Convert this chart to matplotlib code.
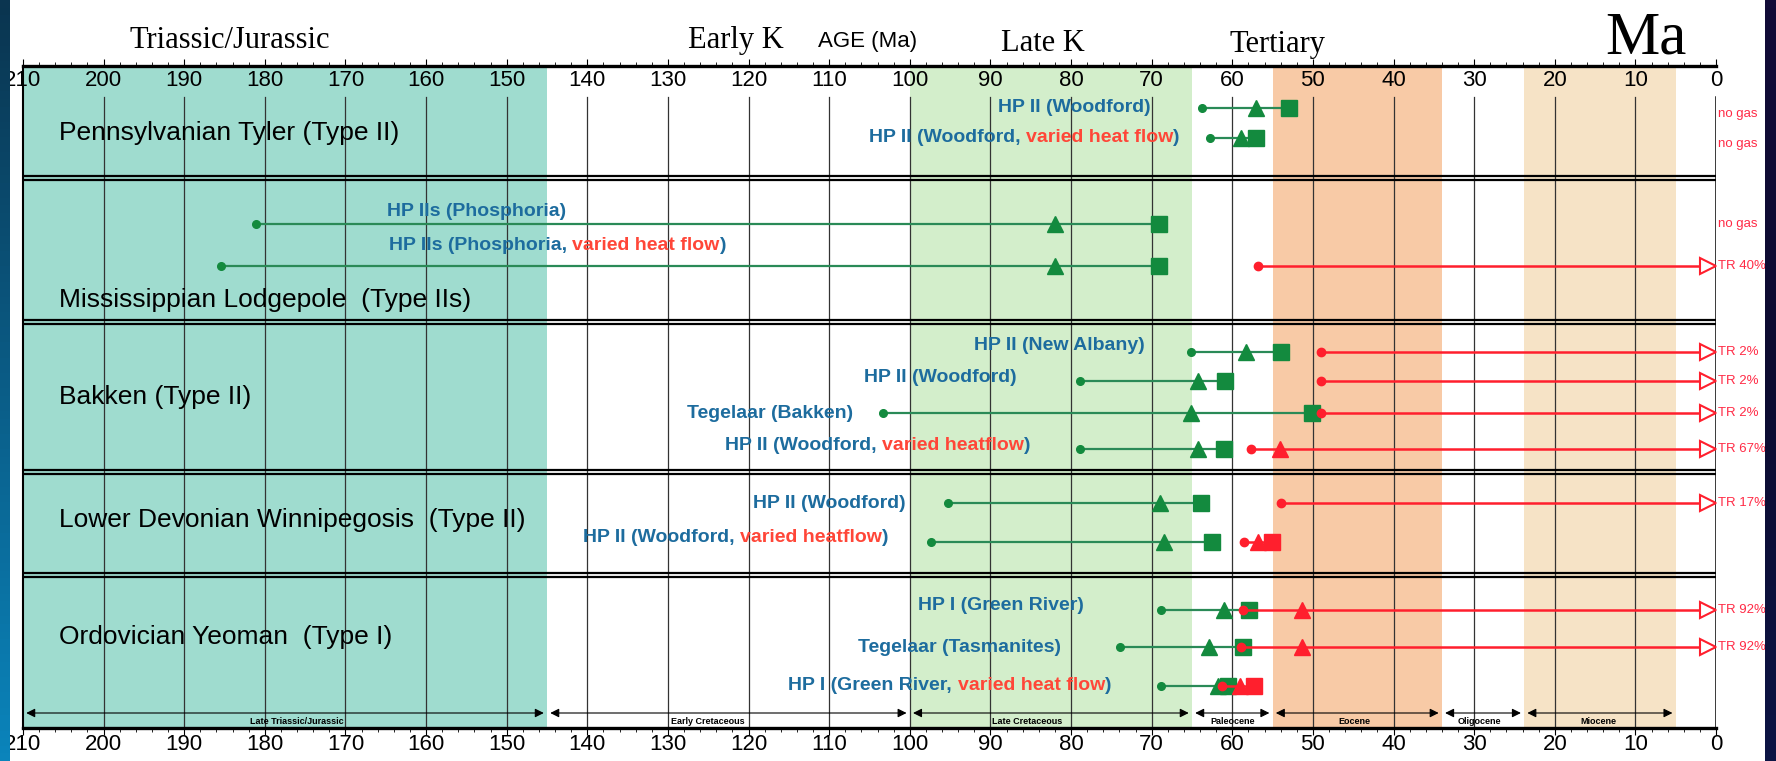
import numpy as np
import matplotlib.pyplot as plt
from matplotlib import font_manager
from matplotlib.colors import LinearSegmentedColormap

# fonts: narrow sans for small labels if present
names = {f.name for f in font_manager.fontManager.ttflist}
sans = 'Liberation Sans' if 'Liberation Sans' in names else 'DejaVu Sans'
narrow = 'Liberation Sans Narrow' if 'Liberation Sans Narrow' in names else sans
serif = 'Liberation Serif' if 'Liberation Serif' in names else 'DejaVu Serif'

# time axis (Ma)
ticks = list(range(210, -1, -10))

# shaded time bands (start, end, colour)
band_start = [210, 100, 55, 23.8]
band_end = [145, 65, 34, 5]
band_color = ['#9fdccf', '#d3eecb', '#f8caa6', '#f6e3c6']

# epoch arrows along the bottom
epoch_start = [210, 145, 100, 65, 55, 34, 23.8]
epoch_end = [145, 100, 65, 55, 34, 23.8, 5]
epoch_names = ['Late Triassic/Jurassic', 'Early Cretaceous', 'Late Cretaceous',
               'Paleocene', 'Eocene', 'Oligocene', 'Miocene']
epoch_label_x = [176, 125, 85.5, 60, 44.8, 29.3, 14.6]

# source rock groups
groups = ['Pennsylvanian Tyler (Type II)', 'Mississippian Lodgepole  (Type IIs)',
          'Bakken (Type II)', 'Lower Devonian Winnipegosis  (Type II)',
          'Ordovician Yeoman  (Type I)']
group_y = [133, 300, 397, 520, 637]
sep_y = [176, 320, 470, 573]

# kinetic models
labels = ['HP II (Woodford)', 'HP II (Woodford, varied heat flow)',
          'HP IIs (Phosphoria)', 'HP IIs (Phosphoria, varied heat flow)',
          'HP II (New Albany)', 'HP II (Woodford)', 'Tegelaar (Bakken)',
          'HP II (Woodford, varied heatflow)',
          'HP II (Woodford)', 'HP II (Woodford, varied heatflow)',
          'HP I (Green River)', 'Tegelaar (Tasmanites)',
          'HP I (Green River, varied heat flow)']
label_x = [70.1, 66.5, 142.6, 122.8, 70.8, 86.7, 107.0, 85.0, 100.5, 102.6, 78.4, 81.2, 75.0]
label_y = [107, 138, 212, 245, 345, 377, 413, 445, 503, 538, 605, 648, 685]
line_y = [108, 138, 224, 266, 352, 381, 413, 449, 503, 542, 610, 647, 686]

# oil window: onset (dot), peak (triangle), end (square)
oil_start = [63.8, 62.8, 181.1, 185.5, 65.1, 78.9, 103.3, 78.9, 95.3, 97.4, 68.9, 73.9, 68.9]
oil_peak = [57.1, 58.9, 82.0, 82.0, 58.3, 64.3, 65.1, 64.3, 69.0, 68.5, 61.0, 62.9, 61.8]
oil_end = [53.0, 57.0, 69.1, 69.1, 54.0, 60.9, 50.1, 61.0, 63.9, 62.5, 57.9, 58.7, 60.5]

# gas window (None = not reached)
gas_start = [None, None, None, 56.8, 49.0, 49.0, 49.0, 57.7, 54.0, 58.6, 58.7, 58.9, 61.3]
gas_peak = [None, None, None, None, None, None, None, 54.1, None, 56.8, 51.4, 51.4, 59.1]
gas_end = [None, None, None, None, None, None, None, None, None, 55.1, None, None, 57.3]
gas_note = ['no gas', 'no gas', 'no gas', 'TR 40%', 'TR 2%', 'TR 2%', 'TR 2%',
            'TR 67%', 'TR 17%', '', 'TR 92%', 'TR 92%', '']

blue = '#1d6c9e'
red_txt = '#ff4638'
green = '#138a3e'
green_line = '#2a8a57'
red = '#ff1f2d'

W, H = 1776, 761
fig = plt.figure(figsize=(W / 100, H / 100), dpi=100)
fig.patch.set_facecolor('white')

# frame coordinates in pixels
x0, x1, y0, y1 = 23, 1716, 66, 728
ax = fig.add_axes([x0 / W, (H - y1) / H, (x1 - x0) / W, (y1 - y0) / H])
ax.set_xlim(210, 0)
ax.set_ylim(y1, y0)
ax.set_facecolor('white')

# side strips
grad = np.linspace(0, 1, 100).reshape(-1, 1)
lax = fig.add_axes([0, 0, 10 / W, 1])
lax.imshow(grad, aspect='auto', extent=[0, 1, 0, 1],
           cmap=LinearSegmentedColormap.from_list('edge', ['#0b3550', '#0a5c86', '#0b84bb']))
lax.axis('off')
rax = fig.add_axes([1765 / W, 0, 11 / W, 1])
rax.imshow(grad, aspect='auto', extent=[0, 1, 0, 1],
           cmap=LinearSegmentedColormap.from_list('edge2', ['#120c38', '#0d0b30', '#0c1444']))
rax.axis('off')

for a, b, c in zip(band_start, band_end, band_color):
    ax.axvspan(a, b, color=c, lw=0, zorder=0)

# vertical grid
for t in ticks[1:-1]:
    ax.plot([t, t], [97, y1], color='#333333', lw=0.9, zorder=1)
ax.plot([0, 0], [97, y1], color='black', lw=1.8, zorder=1)

# double separators
for s in sep_y:
    ax.plot([210, 0], [s, s], color='black', lw=1.6, zorder=2)
    ax.plot([210, 0], [s + 4, s + 4], color='black', lw=1.6, zorder=2)

for sp in ['top', 'bottom']:
    ax.spines[sp].set_linewidth(2.4)
ax.spines['left'].set_linewidth(1.5)
ax.spines['right'].set_visible(False)
ax.set_yticks([])
ax.set_xticks(ticks)
ax.set_xticks(np.arange(0, 211, 2), minor=True)
ax.tick_params(axis='x', which='both', top=True, bottom=True, direction='out',
               labelbottom=False, labeltop=False)
ax.tick_params(axis='x', which='major', length=5, width=0.8)
ax.tick_params(axis='x', which='minor', length=3, width=0.6)

for t in ticks:
    ax.text(t, 81, str(t), ha='center', va='center', fontsize=16, family=narrow, zorder=3)
    ax.text(t, 745, str(t), ha='center', va='center', fontsize=16, family=narrow,
            clip_on=False)

# epoch arrows
for a, b, name, lx in zip(epoch_start, epoch_end, epoch_names, epoch_label_x):
    ax.annotate('', xy=(b + 0.4, 713), xytext=(a - 0.4, 713),
                arrowprops=dict(arrowstyle='<|-|>', color='black', lw=0.8,
                                shrinkA=0, shrinkB=0, mutation_scale=13), zorder=3)
    ax.text(lx, 721, name, ha='center', va='center', fontsize=6.5, family=narrow,
            weight='bold', zorder=3)

# titles above the frame
ax.text(184.4, 48, 'Triassic/Jurassic', ha='center', va='baseline', fontsize=22,
        family=serif, clip_on=False)
ax.text(121.6, 48, 'Early K', ha='center', va='baseline', fontsize=22, family=serif,
        clip_on=False)
ax.text(105.2, 47, 'AGE (Ma)', ha='center', va='baseline', fontsize=16, family=sans,
        clip_on=False)
ax.text(83.5, 51, 'Late K', ha='center', va='baseline', fontsize=22, family=serif,
        clip_on=False)
ax.text(54.4, 52, 'Tertiary', ha='center', va='baseline', fontsize=22, family=serif,
        clip_on=False)
ax.text(8.7, 53, 'Ma', ha='center', va='baseline', fontsize=44, family=serif,
        clip_on=False)

for g, gy in zip(groups, group_y):
    ax.text(205.5, gy, g, ha='left', va='center', fontsize=19, family=sans, zorder=3)


def model_label(x, y, text):
    if 'varied' in text:
        head, rest = text.split('varied')
        parts = [(head, blue), ('varied' + rest[:-1], red_txt), (')', blue)]
    else:
        parts = [(text, blue)]
    t = ax.text(x, y, parts[-1][0], color=parts[-1][1], ha='right', va='center',
                fontsize=14, weight='bold', family=sans, zorder=4)
    for s, c in reversed(parts[:-1]):
        t = ax.annotate(s, xy=(0, 0), xycoords=t, ha='right', va='bottom',
                        color=c, fontsize=14, weight='bold', family=sans, zorder=4)


for i in range(len(labels)):
    model_label(label_x[i], label_y[i], labels[i])
    ly = line_y[i]
    ax.plot([oil_start[i], oil_end[i]], [ly, ly], color=green_line, lw=1.6, zorder=5)
    ax.plot(oil_end[i], ly, 's', color=green, ms=11.5, zorder=6)
    ax.plot(oil_peak[i], ly, '^', color=green, ms=12, zorder=6)
    ax.plot(oil_start[i], ly, 'o', color=green, ms=5.5, zorder=6)
    if gas_start[i] is not None:
        reds = [v for v in (gas_start[i], gas_peak[i], gas_end[i]) if v is not None]
        stop = 1.0 if gas_note[i] else min(reds)
        ax.plot([gas_start[i], stop], [ly, ly], color=red, lw=1.8, zorder=7)
        if gas_end[i] is not None:
            ax.plot(gas_end[i], ly, 's', color=red, ms=11.5, zorder=8)
        if gas_peak[i] is not None:
            ax.plot(gas_peak[i], ly, '^', color=red, ms=12, zorder=8)
        ax.plot(gas_start[i], ly, 'o', color=red, ms=6, zorder=9)
        if gas_note[i]:
            ax.plot(1.0, ly, '>', ms=12, mfc='white', mec=red, mew=1.5, zorder=9,
                    clip_on=False)
    if gas_note[i]:
        ny = ly + 6 if gas_note[i] == 'no gas' and i < 2 else ly
        ax.text(-0.3, ny, gas_note[i], ha='left', va='center', fontsize=9.5,
                family=narrow, color='#ff2a45', clip_on=False)

fig.savefig('out.png', dpi=100)
